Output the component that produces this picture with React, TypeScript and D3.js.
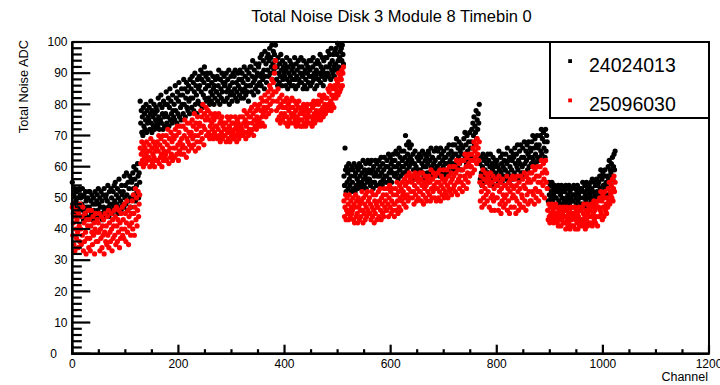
import React from 'react';
import * as d3 from 'd3';

// Series "24024013" (black), channels 0..1023 in blocks of 128
const black0 = [
  55,48,45,51,47,53,44,49,52,46,50,45,48,53,47,51,
  50,44,48,53,46,43,51,47,45,52,49,44,47,50,46,52,
  47,52,44,49,45,51,43,48,50,46,44,52,48,45,49,51,
  46,53,48,44,50,47,52,45,49,43,51,47,53,46,44,50,
  51,45,49,54,47,44,52,48,46,53,50,45,48,52,47,54,
  49,55,46,51,48,53,45,50,56,47,52,49,46,54,51,48,
  52,47,57,50,54,48,58,51,46,55,49,53,57,50,47,56,
  55,50,58,53,60,51,56,49,59,54,52,61,57,50,58,55,
];
const black1 = [
  81,74,78,71,76,70,79,73,77,72,75,80,71,78,74,76,
  75,79,72,77,81,74,71,78,76,73,80,72,77,75,79,74,
  78,73,82,76,72,80,75,83,74,79,77,72,81,76,73,80,
  77,84,74,80,76,82,73,79,85,75,81,77,74,83,78,76,
  80,75,86,78,82,74,84,77,81,87,76,83,79,75,85,80,
  83,77,88,80,85,76,82,87,79,84,78,86,81,77,88,82,
  85,79,89,82,87,78,84,90,80,86,83,77,88,81,85,89,
  86,80,91,84,88,79,90,83,87,92,82,85,89,81,90,86,
];
const black2 = [
  88,82,86,80,90,84,81,87,83,89,85,80,86,82,88,84,
  84,89,81,86,91,83,80,88,85,82,90,84,87,81,89,86,
  87,81,90,84,82,88,85,91,80,86,83,89,84,81,87,90,
  83,89,85,91,82,87,84,81,90,86,88,83,91,85,82,88,
  90,84,87,82,92,85,89,83,86,91,84,88,81,90,86,92,
  86,92,84,89,94,87,83,91,88,85,93,89,86,90,84,92,
  93,87,95,89,86,96,90,88,94,91,85,97,89,93,87,95,
  91,96,89,94,98,90,95,92,99,88,93,97,91,96,94,99,
];
const black3 = [
  94,88,92,86,95,90,87,93,89,96,91,86,94,88,92,90,
  89,93,86,91,95,88,85,92,90,87,94,89,86,93,91,88,
  92,86,90,95,88,85,93,89,91,86,94,88,92,87,90,95,
  87,92,89,85,94,90,86,91,88,93,85,90,92,87,94,89,
  91,86,94,89,87,92,95,88,90,85,93,89,91,86,94,90,
  88,93,90,96,87,92,89,95,91,86,94,90,88,95,92,89,
  95,90,97,92,89,96,93,88,98,91,94,90,96,92,89,97,
  93,98,91,96,99.6,94,92,99,95,97,91,98,94,99,96,93,
];
const black4 = [
  57,54,66,59,52,60,55,58,53,61,56,54,59,57,52,60,
  55,59,53,61,57,52,58,54,60,56,53,59,55,61,57,54,
  60,55,58,53,62,56,54,59,57,61,53,58,55,62,56,59,
  56,61,54,58,62,55,59,53,60,57,55,62,58,54,61,57,
  59,54,62,57,60,55,63,58,54,61,56,59,63,57,55,60,
  57,62,55,60,64,58,56,63,59,61,55,62,58,64,60,57,
  62,57,65,60,58,64,56,61,66,59,63,57,65,60,62,58,
  60,65,58,63,70,61,67,59,64,62,68,60,66,63,61,67,
];
const black5 = [
  62,57,64,59,56,61,65,58,60,57,63,59,56,62,64,58,
  59,63,56,61,65,58,60,57,64,62,56,60,63,58,61,65,
  64,58,62,57,66,60,59,63,57,61,65,59,62,58,66,60,
  60,65,58,63,57,61,66,59,64,58,62,60,65,57,63,61,
  63,58,66,61,59,64,67,60,62,58,65,61,63,67,59,64,
  61,67,59,64,69,62,60,66,63,68,61,65,59,67,64,62,
  66,62,69,64,71,63,67,61,70,65,62,68,64,71,66,63,
  68,72,66,74,70,76,67,73,71,78,69,75,72,77,74,80,
];
const black6 = [
  61,56,63,58,54,60,64,57,62,55,59,63,56,61,58,64,
  58,62,55,60,64,57,54,61,59,63,56,60,54,62,58,61,
  62,57,60,55,65,59,56,63,58,61,55,64,60,57,62,59,
  59,64,56,61,66,58,62,55,63,60,57,65,59,62,56,64,
  63,58,66,61,57,64,60,67,59,62,56,65,61,67,58,63,
  60,66,58,63,68,61,57,65,62,67,59,64,68,60,63,66,
  65,61,68,63,70,62,66,60,69,64,61,67,70,63,66,62,
  67,63,70,65,72,64,69,62,71,66,68,63,72,65,70,68,
];
const black7 = [
  53,49,55,51,48,54,50,52,55,49,53,51,48,54,50,52,
  50,53,48,52,54,49,47,53,51,48,54,50,52,47,53,49,
  52,48,54,50,47,53,51,49,54,48,52,50,47,53,49,51,
  49,54,51,47,53,50,48,52,54,49,51,47,53,50,52,48,
  53,48,55,50,52,47,54,51,49,55,50,53,48,52,54,50,
  51,55,49,53,56,50,52,48,55,51,54,49,56,52,50,54,
  55,51,57,53,59,52,56,50,58,54,52,57,59,53,55,51,
  57,54,60,56,62,55,59,58,61,57,63,56,60,64,59,65,
];

// Series "25096030" (red)
const red0 = [
  47,38,42,35,44,33,40,46,37,43,39,34,45,41,36,48,
  40,35,44,38,47,33,42,36,45,39,32,43,37,41,46,34,
  43,37,33,41,46,39,35,44,38,42,32,40,45,36,39,43,
  36,42,39,45,33,40,37,44,34,41,38,43,32,39,45,36,
  41,35,44,38,46,34,42,39,36,45,40,33,43,37,41,46,
  38,44,35,47,41,36,43,39,46,34,42,37,45,40,47,38,
  43,37,48,40,45,36,42,49,39,46,35,44,41,47,38,45,
  42,49,40,51,45,38,47,53,43,50,41,46,52,44,48,51,
];
const red1 = [
  66,61,64,68,62,65,60,67,63,66,61,64,68,62,65,63,
  63,67,60,65,69,62,66,61,64,68,63,60,67,65,62,66,
  68,62,65,70,61,67,63,69,64,60,66,70,62,65,68,63,
  64,70,62,67,72,65,61,69,66,63,71,64,68,62,70,66,
  69,63,72,66,70,64,73,67,62,71,65,68,73,64,69,66,
  67,73,64,70,75,66,72,63,69,74,68,65,71,67,74,70,
  71,66,75,69,73,67,77,70,65,74,72,68,76,70,66,73,
  74,68,78,71,76,69,80,73,67,77,72,75,79,70,76,78,
];
const red2 = [
  78,71,75,69,73,77,70,74,72,76,69,75,71,77,73,70,
  73,76,69,72,77,70,74,68,75,71,76,69,73,70,74,72,
  70,74,68,72,76,71,69,75,73,68,72,76,70,74,71,69,
  74,69,72,76,70,73,68,75,71,74,69,72,76,70,73,71,
  72,76,70,74,78,71,75,69,73,77,71,74,70,76,72,78,
  76,71,79,74,72,77,70,75,80,73,78,72,76,74,79,75,
  75,80,73,78,82,76,74,81,77,79,73,83,78,76,81,79,
  79,84,77,82,86,80,85,78,88,83,81,87,84,90,92,94,
];
const red3 = [
  84,78,81,75,85,79,76,82,74,80,77,83,75,79,81,76,
  77,81,74,79,82,76,73,80,78,75,81,74,79,77,82,76,
  79,74,77,81,75,78,73,80,76,74,79,81,75,77,73,78,
  75,79,73,77,80,74,78,76,73,79,75,80,77,74,78,76,
  78,74,80,76,73,79,75,81,77,74,80,76,78,75,81,77,
  80,76,83,78,75,81,77,82,79,76,83,78,80,77,82,79,
  82,78,85,80,84,79,86,81,78,83,80,85,82,79,86,83,
  85,82,88,84,87,83,90,86,84,89,85,88,91,86,90,92,
];
const red4 = [
  49,44,47,51,43,46,50,45,48,43,51,46,44,49,47,45,
  46,50,43,48,42,47,51,44,49,45,42,50,47,43,48,46,
  44,49,52,46,42,50,45,48,43,51,47,44,52,46,49,45,
  50,45,48,43,52,47,44,51,46,42,49,45,51,48,43,47,
  47,52,44,49,53,46,43,50,48,45,51,44,53,47,49,46,
  51,46,53,48,44,50,54,47,52,45,49,53,46,51,48,44,
  48,53,46,51,55,49,45,52,47,54,50,46,53,49,55,51,
  52,48,56,50,54,47,57,51,55,49,53,58,50,56,52,57,
];
const red5 = [
  55,50,57,52,48,54,58,51,56,49,53,57,50,55,52,58,
  52,56,49,54,58,51,48,55,53,57,50,54,49,56,52,55,
  57,51,55,49,59,53,50,56,52,58,54,50,57,53,49,55,
  53,58,50,55,52,59,49,54,57,51,56,53,59,50,55,52,
  56,51,59,54,50,57,53,60,52,55,58,51,56,60,53,57,
  54,60,52,58,62,55,51,59,56,61,53,57,62,55,59,52,
  59,54,62,57,64,56,60,53,63,58,55,61,64,57,60,62,
  60,64,58,66,62,68,59,65,63,67,61,69,64,66,62,68,
];
const red6 = [
  55,49,57,52,47,54,59,50,56,48,53,58,51,55,49,57,
  52,56,47,54,58,50,46,55,51,57,49,53,46,56,50,54,
  56,50,54,46,57,52,48,55,45,53,49,56,51,47,54,50,
  48,54,51,57,46,53,49,55,45,52,56,47,54,50,57,51,
  53,47,56,50,45,54,49,57,52,46,55,48,53,57,47,51,
  50,56,47,54,58,49,53,46,57,51,55,48,56,52,58,49,
  55,49,58,52,60,51,56,48,59,53,50,57,60,52,55,49,
  57,52,60,55,62,51,58,54,61,56,50,59,62,55,58,53,
];
const red7 = [
  46,43,48,44,42,47,45,43,48,44,46,42,47,45,43,48,
  44,47,42,45,41,46,43,47,44,41,46,43,45,42,47,44,
  42,46,40,44,47,43,41,45,42,46,40,44,47,43,41,45,
  45,41,44,47,40,43,46,42,45,40,44,47,41,43,46,42,
  43,47,41,45,48,42,44,40,46,43,48,41,45,42,47,44,
  46,42,48,44,41,47,45,49,43,46,42,48,44,47,41,49,
  47,44,50,46,52,45,49,43,51,47,44,50,52,46,48,45,
  50,47,53,49,55,48,52,51,54,50,56,49,53,57,52,55,
];

const seriesNames = ['24024013', '25096030'];
const seriesColors = ['#000000', '#ff0000'];
const blackSeries = [...black0, ...black1, ...black2, ...black3, ...black4, ...black5, ...black6, ...black7];
const redSeries = [...red0, ...red1, ...red2, ...red3, ...red4, ...red5, ...red6, ...red7];

const xMajorTicks = [0, 200, 400, 600, 800, 1000, 1200];
const yMajorTicks = [0, 10, 20, 30, 40, 50, 60, 70, 80, 90, 100];
const title = 'Total Noise Disk 3 Module 8 Timebin 0';
const xTitle = 'Channel';
const yTitle = 'Total Noise ADC';

const FONT = '"Liberation Sans", Arial, Helvetica, sans-serif';

export default function App() {
  const W = 720;
  const H = 385;
  const x = d3.scaleLinear().domain([0, 1200]).range([72.3, 709]);
  const y = d3.scaleLinear().domain([0, 100]).range([353.7, 42]);
  const x0 = x(0), x1 = x(1200), y0 = y(0), y1 = y(100);

  const xMinor = d3.range(0, 1201, 50).filter((v) => v % 200 !== 0);
  const yMinor = d3.range(0, 101, 2).filter((v) => v % 10 !== 0);

  const series = [blackSeries, redSeries];

  return (
    <svg
      width={W}
      height={H}
      style={{ position: 'absolute', left: 0, top: 0, background: '#fff' }}
      fontFamily={FONT}
    >
      <rect x={0} y={0} width={W} height={H} fill="#fff" />
      <text x={391.5} y={21.7} fontSize={16.5} textAnchor="middle" fill="#000">
        {title}
      </text>

      {/* points */}
      {series.map((vals, si) => (
        <g key={si} fill={seriesColors[si]}>
          {vals.map((v, i) => (
            <circle key={i} cx={x(i)} cy={y(v)} r={2.6} />
          ))}
        </g>
      ))}

      {/* frame */}
      <rect x={x0} y={y1} width={x1 - x0} height={y0 - y1} fill="none" stroke="#000" strokeWidth={2} />
      <line x1={x0} x2={x0} y1={y1} y2={y0 + 1} stroke="#000" strokeWidth={2.4} />
      <line x1={x0 - 1} x2={x1} y1={y0} y2={y0} stroke="#000" strokeWidth={2.4} />

      {/* y ticks */}
      {yMajorTicks.map((v) => (
        <line key={'ym' + v} x1={x0} x2={x0 + 18} y1={y(v)} y2={y(v)} stroke="#000" strokeWidth={2.2} />
      ))}
      {yMinor.map((v) => (
        <line key={'yn' + v} x1={x0} x2={x0 + 9.5} y1={y(v)} y2={y(v)} stroke="#000" strokeWidth={2.2} />
      ))}
      {yMajorTicks.map((v) => (
        <text
          key={'yl' + v}
          x={v === 0 ? 57 : 67.5}
          y={y(v) + 4.3}
          fontSize={12}
          textAnchor="end"
          fill="#000"
        >
          {v}
        </text>
      ))}

      {/* x ticks */}
      {xMajorTicks.map((v) => (
        <line key={'xm' + v} x1={x(v)} x2={x(v)} y1={y0} y2={y0 - 9} stroke="#000" strokeWidth={2.2} />
      ))}
      {xMinor.map((v) => (
        <line key={'xn' + v} x1={x(v)} x2={x(v)} y1={y0} y2={y0 - 4.5} stroke="#000" strokeWidth={2.2} />
      ))}
      {xMajorTicks.map((v) => (
        <text key={'xl' + v} x={x(v)} y={368.3} fontSize={12} textAnchor="middle" fill="#000">
          {v}
        </text>
      ))}

      {/* axis titles */}
      <text x={708} y={381} fontSize={12.5} textAnchor="end" fill="#000">
        {xTitle}
      </text>
      <text
        transform="translate(27.5,40) rotate(-90)"
        fontSize={12.8}
        textAnchor="end"
        fill="#000"
      >
        {yTitle}
      </text>

      {/* legend */}
      <rect x={550} y={42} width={159} height={76} fill="#fff" stroke="#000" strokeWidth={2} />
      {seriesNames.map((name, i) => (
        <g key={name}>
          <rect x={568.2} y={59.2 + i * 39.3} width={3.8} height={3.8} fill={seriesColors[i]} />
          <text x={589} y={71.7 + i * 39} fontSize={19.5} fill="#000">
            {name}
          </text>
        </g>
      ))}
    </svg>
  );
}
